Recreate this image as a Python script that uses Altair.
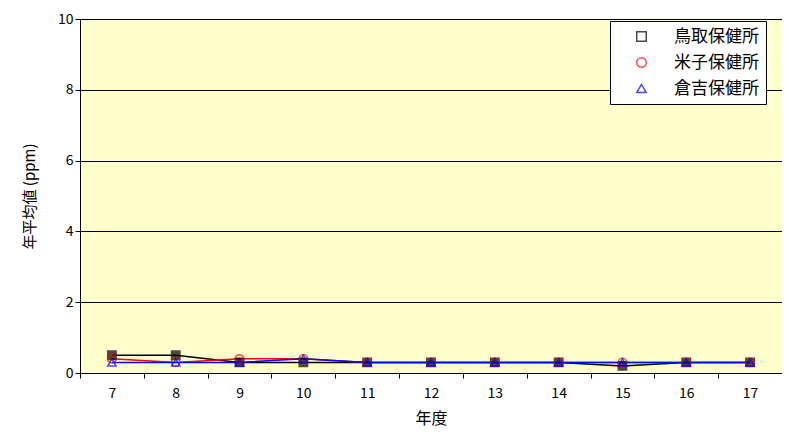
import altair as alt
import pandas as pd

years = ["7","8","9","10","11","12","13","14","15","16","17"]
tottori = [0.5,0.5,0.3,0.3,0.3,0.3,0.3,0.3,0.2,0.3,0.3]
yonago = [0.4,0.3,0.4,0.4,0.3,0.3,0.3,0.3,0.3,0.3,0.3]
kurayoshi = [0.3,0.3,0.3,0.4,0.3,0.3,0.3,0.3,0.3,0.3,0.3]
names = ["鳥取保健所","米子保健所","倉吉保健所"]

rows = []
for n, vals in zip(names, [tottori, yonago, kurayoshi]):
    for y, v in zip(years, vals):
        rows.append({"年度": y, "値": v, "系列": n})
df = pd.DataFrame(rows)

font = "Noto Sans CJK JP"
leg = dict(title=None, orient="none", legendX=530, legendY=2,
           fillColor="white", strokeColor="black", padding=7,
           labelFontSize=17, labelFont=font, labelColor="black", symbolSize=90,
           symbolStrokeWidth=1.5, rowPadding=8, labelBaseline="middle",
           symbolOffset=16, labelOffset=24)
cscale = alt.Scale(domain=names, range=["black","red","blue"])
color = alt.Color("系列:N", scale=cscale, legend=alt.Legend(**leg))
shape = alt.Shape("系列:N", scale=alt.Scale(domain=names, range=["square","circle","triangle-up"]),
                  legend=alt.Legend(**leg))

x = alt.X("年度:O", sort=years, title="年度",
          axis=alt.Axis(labelAngle=0, tickBand="extent", labelFontSize=14, titleFontSize=16,
                        titleFont=font, labelFont=font, domainColor="black", tickColor="black",
                        labelColor="black", titleColor="black", labelPadding=8, titlePadding=10,
                        titleFontWeight="normal"))
y = alt.Y("値:Q", scale=alt.Scale(domain=[0,10]), title="年平均値 (ppm)",
          axis=alt.Axis(values=[0,2,4,6,8,10], labelFontSize=14, titleFontSize=15, titleFont=font,
                        labelFont=font, gridColor="black", gridOpacity=1, domainColor="black",
                        tickColor="black", labelColor="black", titleColor="black", titlePadding=20,
                        titleFontWeight="normal"))

line = alt.Chart(df).mark_line(strokeWidth=1.5).encode(x=x, y=y, color=color, detail="系列:N")
pts = alt.Chart(df).mark_point(size=70, filled=False, strokeWidth=1.5).encode(
    x=x, y=y, color=color, shape=shape,
    fill=alt.condition(alt.datum["系列"] == "鳥取保健所", alt.value("black"), alt.value("transparent")))

chart = (line + pts).properties(
    width=702, height=354,
    background="white",
    padding={"left": 72, "top": 11, "right": 0, "bottom": 60},
    autosize=alt.AutoSizeParams(type="none"),
).configure_view(fill="#FFFFCC", stroke="black")

chart.save("out.html", embed_options={"renderer": "svg", "actions": False})
